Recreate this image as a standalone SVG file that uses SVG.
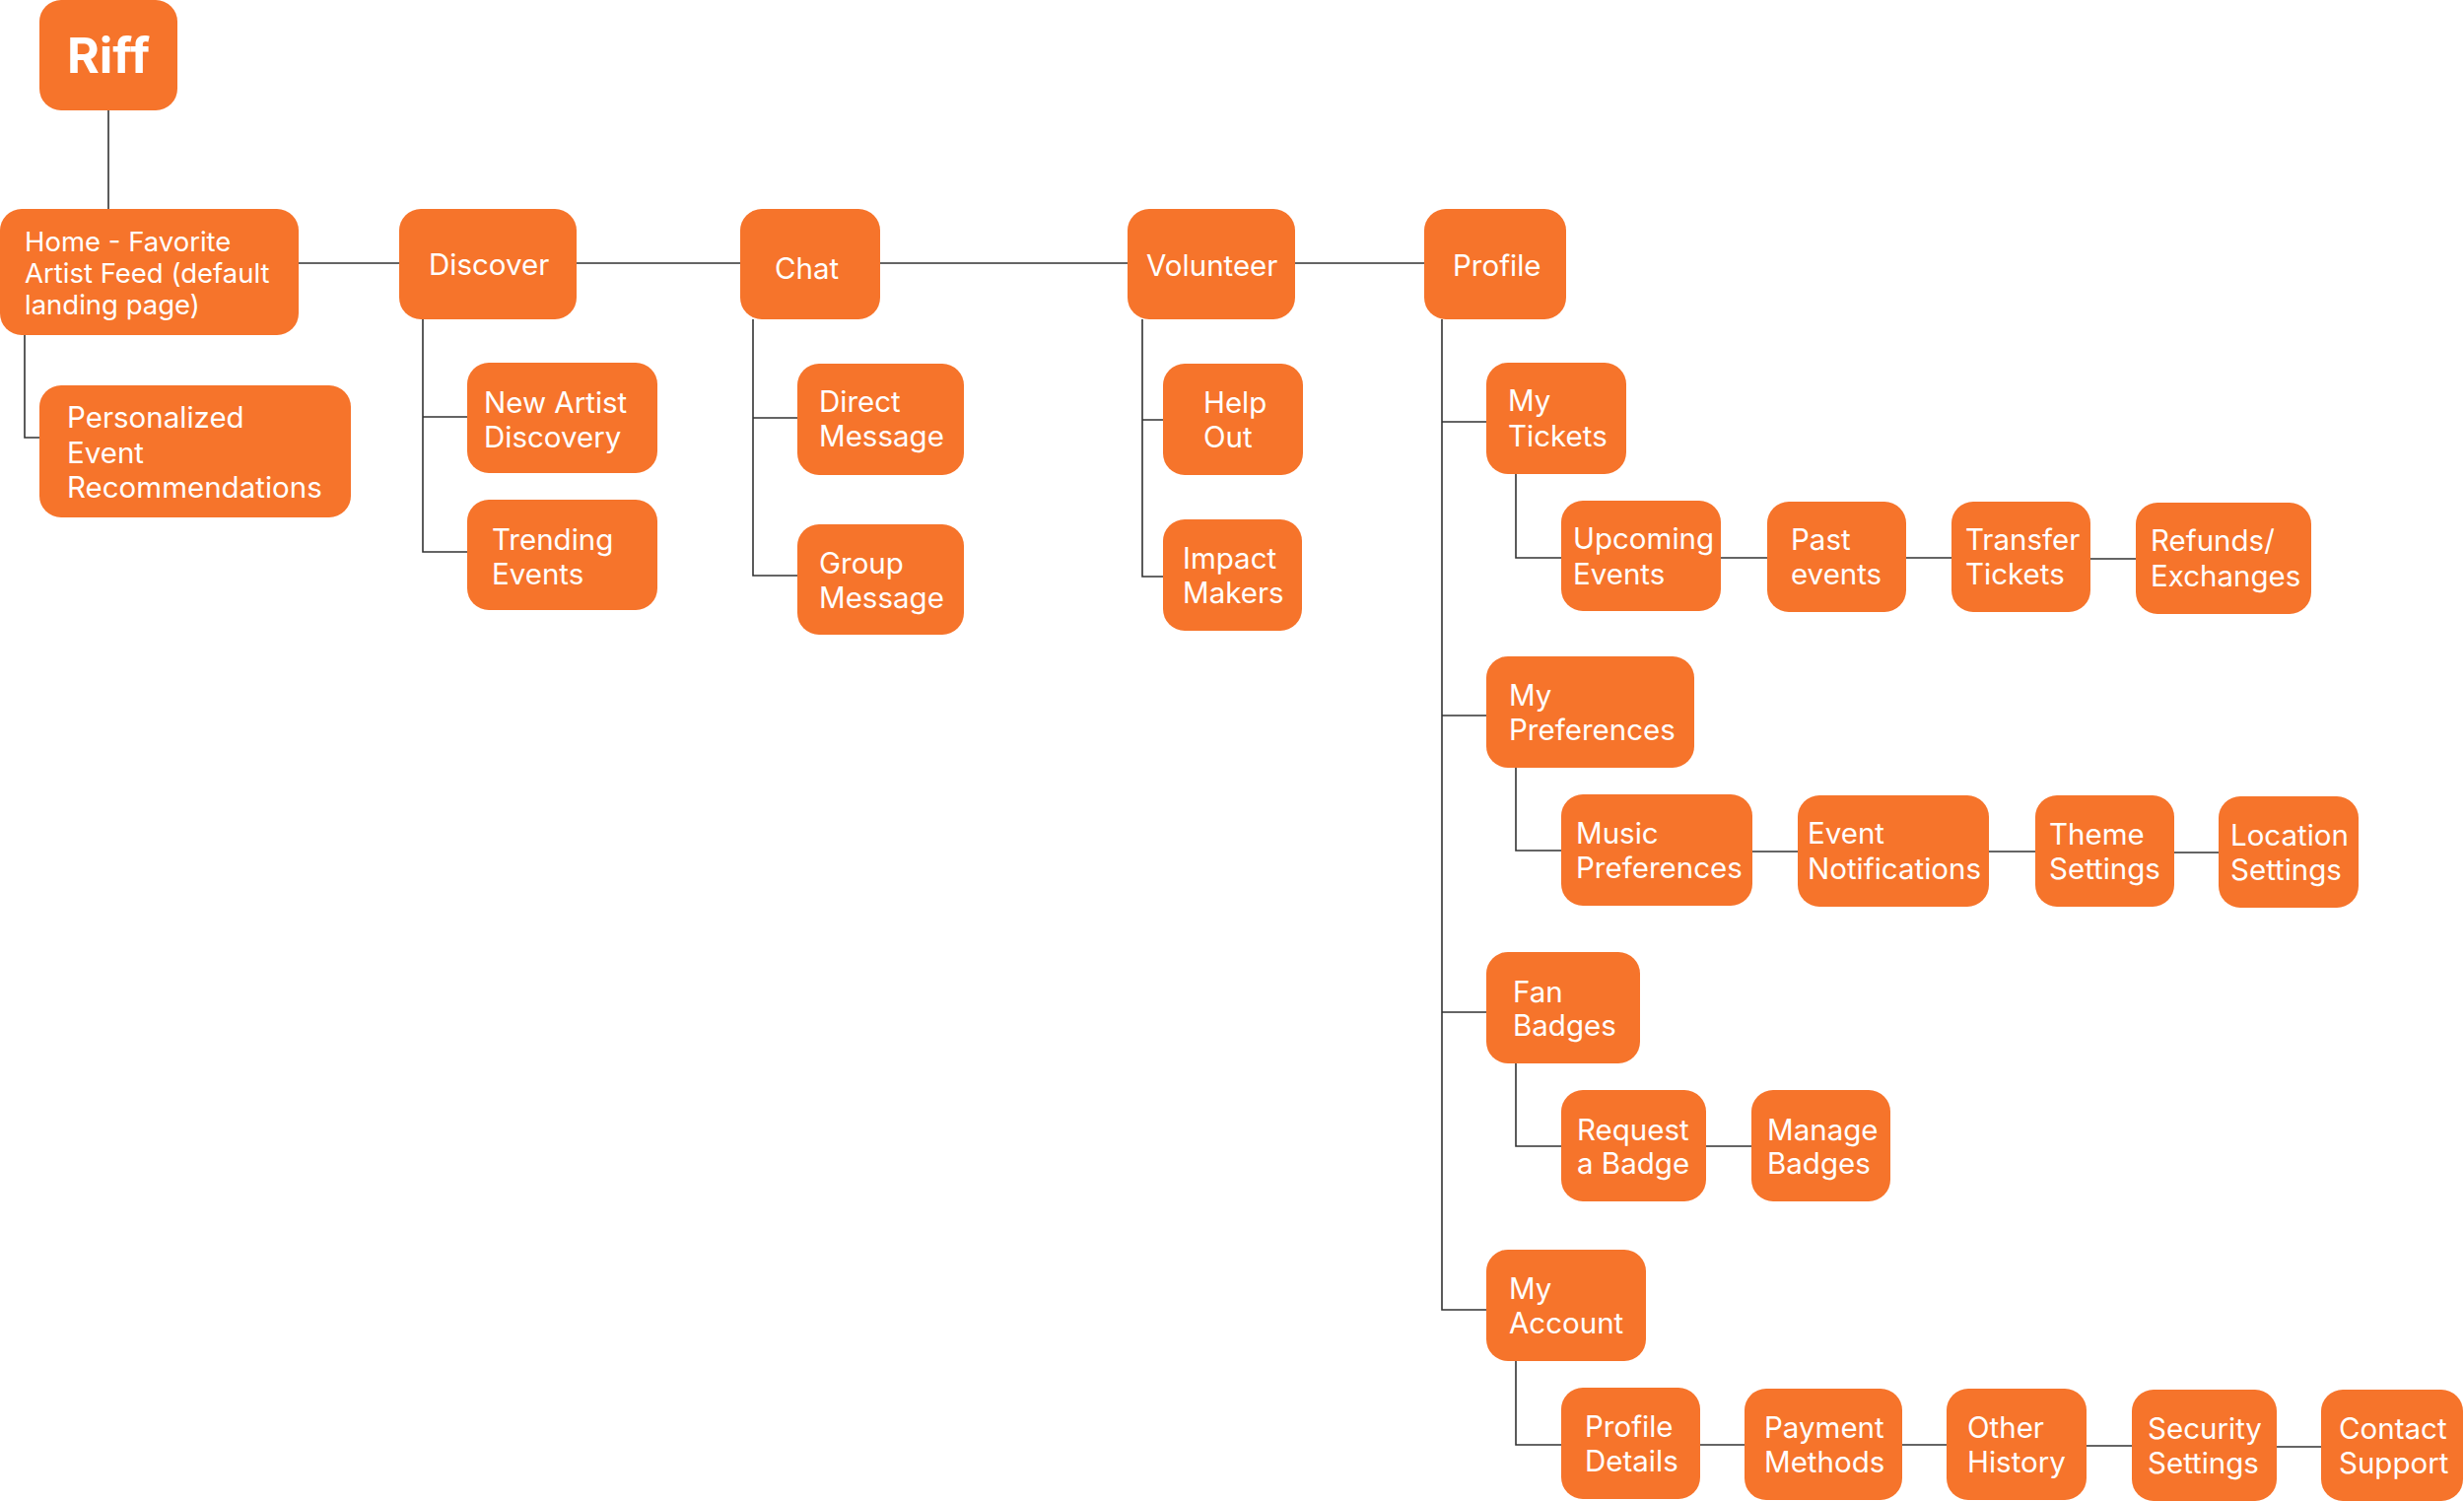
<svg xmlns="http://www.w3.org/2000/svg" width="2500" height="1523" viewBox="0 0 2500 1523">
<style>
.n{fill:#F6742B}
.t{fill:#FFFFFF;font-family:Inter,"Liberation Sans",sans-serif;font-size:29.5px}
.s{font-size:27.5px}
.c{fill:none;stroke:#333333;stroke-width:1.6}
</style>
<rect width="2500" height="1523" fill="#FFFFFF"/>
<g id="connectors">
<path class="c" d="M110 112V212"/>
<path class="c" d="M303 267H405M585 267H751M893 267H1144M1314 267H1445"/>
<path class="c" d="M25 340V444H40"/>
<path class="c" d="M429 324V560H474M429 423H474"/>
<path class="c" d="M764 324V584H809M764 424H809"/>
<path class="c" d="M1159 324V585H1180M1159 426H1180"/>
<path class="c" d="M1463 324V1329H1508M1463 428H1508M1463 726H1508M1463 1027H1508"/>
<path class="c" d="M1538 481V566H1584M1746 566H1793M1934 566H1980M2121 567H2167"/>
<path class="c" d="M1538 779V863H1584M1778 864H1824M2018 864H2065M2206 865H2251"/>
<path class="c" d="M1538 1079V1163H1584M1731 1163H1777"/>
<path class="c" d="M1538 1381V1466H1584M1725 1466H1770M1930 1466H1975M2117 1467H2163M2310 1468H2355"/>
</g>
<g id="riff"><rect class="n" x="40" y="0" width="140" height="112" rx="22"/><text class="t" x="110" y="74" text-anchor="middle" style="font-size:50px;font-weight:700">Riff</text></g>
<g id="home"><rect class="n" x="0" y="212" width="303" height="128" rx="22"/><text class="t s" x="25" y="255">Home - Favorite</text><text class="t s" x="25" y="287">Artist Feed (default</text><text class="t s" x="25" y="319">landing page)</text></g>
<g id="personalized"><rect class="n" x="40" y="391" width="316" height="134" rx="22"/><text class="t" x="68" y="434">Personalized</text><text class="t" x="68" y="470">Event</text><text class="t" x="68" y="505">Recommendations</text></g>
<g id="discover"><rect class="n" x="405" y="212" width="180" height="112" rx="22"/><text class="t" x="435" y="279">Discover</text></g>
<g id="new-artist"><rect class="n" x="474" y="368" width="193" height="112" rx="22"/><text class="t" x="491" y="419">New Artist</text><text class="t" x="491" y="454">Discovery</text></g>
<g id="trending"><rect class="n" x="474" y="507" width="193" height="112" rx="22"/><text class="t" x="499" y="558">Trending</text><text class="t" x="499" y="593">Events</text></g>
<g id="chat"><rect class="n" x="751" y="212" width="142" height="112" rx="22"/><text class="t" x="786" y="283">Chat</text></g>
<g id="direct"><rect class="n" x="809" y="369" width="169" height="113" rx="22"/><text class="t" x="831" y="418">Direct</text><text class="t" x="831" y="453">Message</text></g>
<g id="group"><rect class="n" x="809" y="532" width="169" height="112" rx="22"/><text class="t" x="831" y="582">Group</text><text class="t" x="831" y="617">Message</text></g>
<g id="volunteer"><rect class="n" x="1144" y="212" width="170" height="112" rx="22"/><text class="t" x="1163" y="280">Volunteer</text></g>
<g id="help-out"><rect class="n" x="1180" y="369" width="142" height="113" rx="22"/><text class="t" x="1221" y="419">Help</text><text class="t" x="1221" y="454">Out</text></g>
<g id="impact"><rect class="n" x="1180" y="527" width="141" height="113" rx="22"/><text class="t" x="1200" y="577">Impact</text><text class="t" x="1200" y="612">Makers</text></g>
<g id="profile"><rect class="n" x="1445" y="212" width="144" height="112" rx="22"/><text class="t" x="1474" y="280">Profile</text></g>
<g id="my-tickets"><rect class="n" x="1508" y="368" width="142" height="113" rx="22"/><text class="t" x="1530" y="417">My</text><text class="t" x="1530" y="453">Tickets</text></g>
<g id="upcoming"><rect class="n" x="1584" y="508" width="162" height="112" rx="22"/><text class="t" x="1596" y="557">Upcoming</text><text class="t" x="1596" y="593">Events</text></g>
<g id="past"><rect class="n" x="1793" y="509" width="141" height="112" rx="22"/><text class="t" x="1817" y="558">Past</text><text class="t" x="1817" y="593">events</text></g>
<g id="transfer"><rect class="n" x="1980" y="509" width="141" height="112" rx="22"/><text class="t" x="1994" y="558">Transfer</text><text class="t" x="1994" y="593">Tickets</text></g>
<g id="refunds"><rect class="n" x="2167" y="510" width="178" height="113" rx="22"/><text class="t" x="2182" y="559">Refunds/</text><text class="t" x="2182" y="595">Exchanges</text></g>
<g id="my-preferences"><rect class="n" x="1508" y="666" width="211" height="113" rx="22"/><text class="t" x="1531" y="716">My</text><text class="t" x="1531" y="751">Preferences</text></g>
<g id="music"><rect class="n" x="1584" y="806" width="194" height="113" rx="22"/><text class="t" x="1599" y="856">Music</text><text class="t" x="1599" y="891">Preferences</text></g>
<g id="event-notif"><rect class="n" x="1824" y="807" width="194" height="113" rx="22"/><text class="t" x="1834" y="856">Event</text><text class="t" x="1834" y="892">Notifications</text></g>
<g id="theme"><rect class="n" x="2065" y="807" width="141" height="113" rx="22"/><text class="t" x="2079" y="857">Theme</text><text class="t" x="2079" y="892">Settings</text></g>
<g id="location"><rect class="n" x="2251" y="808" width="142" height="113" rx="22"/><text class="t" x="2263" y="858">Location</text><text class="t" x="2263" y="893">Settings</text></g>
<g id="fan-badges"><rect class="n" x="1508" y="966" width="156" height="113" rx="22"/><text class="t" x="1535" y="1017">Fan</text><text class="t" x="1535" y="1051">Badges</text></g>
<g id="request-badge"><rect class="n" x="1584" y="1106" width="147" height="113" rx="22"/><text class="t" x="1600" y="1157">Request</text><text class="t" x="1600" y="1191">a Badge</text></g>
<g id="manage-badges"><rect class="n" x="1777" y="1106" width="141" height="113" rx="22"/><text class="t" x="1793" y="1157">Manage</text><text class="t" x="1793" y="1191">Badges</text></g>
<g id="my-account"><rect class="n" x="1508" y="1268" width="162" height="113" rx="22"/><text class="t" x="1531" y="1318">My</text><text class="t" x="1531" y="1353">Account</text></g>
<g id="profile-details"><rect class="n" x="1584" y="1408" width="141" height="113" rx="22"/><text class="t" x="1608" y="1458">Profile</text><text class="t" x="1608" y="1493">Details</text></g>
<g id="payment"><rect class="n" x="1770" y="1409" width="160" height="113" rx="22"/><text class="t" x="1790" y="1459">Payment</text><text class="t" x="1790" y="1494">Methods</text></g>
<g id="other-history"><rect class="n" x="1975" y="1409" width="142" height="113" rx="22"/><text class="t" x="1996" y="1459">Other</text><text class="t" x="1996" y="1494">History</text></g>
<g id="security"><rect class="n" x="2163" y="1410" width="147" height="113" rx="22"/><text class="t" x="2179" y="1460">Security</text><text class="t" x="2179" y="1495">Settings</text></g>
<g id="contact"><rect class="n" x="2355" y="1410" width="144" height="113" rx="22"/><text class="t" x="2373" y="1460">Contact</text><text class="t" x="2373" y="1495">Support</text></g>
</svg>
